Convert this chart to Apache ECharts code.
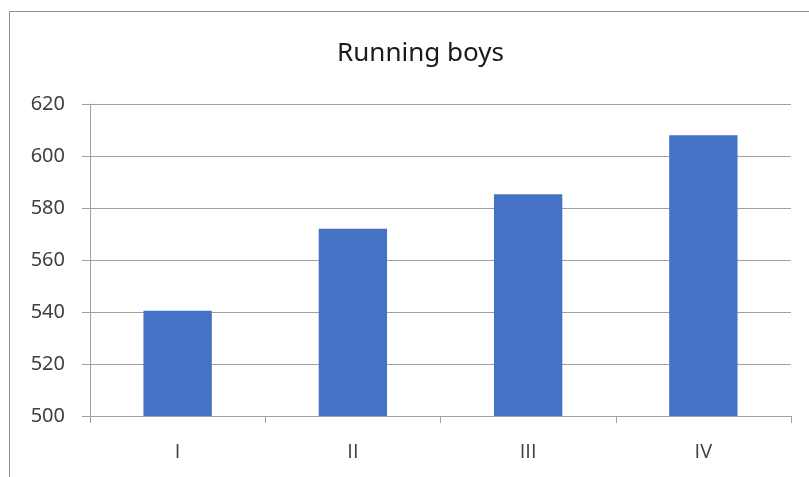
<!DOCTYPE html>
<html>
<head>
<meta charset="utf-8">
<script src="https://cdn.jsdelivr.net/npm/echarts@6/dist/echarts.min.js"></script>
<style>
html,body{margin:0;padding:0;background:#fff;}
#chart{width:809px;height:477px;}
</style>
</head>
<body>
<div id="chart"></div>
<script>
const titleText = 'Running boys';
const categories = ['I', 'II', 'III', 'IV'];
const values = [540.5, 572, 585.3, 608];
const yMin = 500, yMax = 620, yStep = 20;

const chart = echarts.init(document.getElementById('chart'), null, {renderer: 'canvas'});
const font = "'Noto Sans', 'DejaVu Sans', sans-serif";
const catFont = "'Open Sans', 'Liberation Sans', sans-serif";
chart.setOption({
  animation: false,
  backgroundColor: '#ffffff',
  textStyle: {fontFamily: font},
  title: {
    text: titleText,
    left: 415.5,
    textAlign: 'center',
    top: 36,
    textStyle: {fontFamily: font, fontSize: 26, fontWeight: 'normal', color: '#1a1a1a'}
  },
  graphic: [{
    type: 'rect',
    shape: {x: 9.5, y: 11.5, width: 900, height: 600},
    style: {fill: 'none', stroke: '#8c8c8c', lineWidth: 1},
    silent: true
  }],
  grid: {left: 90, right: 18, top: 104, bottom: 61},
  xAxis: {
    type: 'category',
    data: categories,
    axisLine: {show: true, lineStyle: {color: '#a0a0a0', width: 1}},
    axisTick: {show: true, length: 7, alignWithLabel: false, lineStyle: {color: '#a0a0a0'}},
    axisLabel: {margin: 26, fontFamily: catFont, fontSize: 20, color: '#404040'}
  },
  yAxis: {
    type: 'value',
    min: yMin, max: yMax, interval: yStep,
    axisLine: {show: true, lineStyle: {color: '#a0a0a0', width: 1}},
    axisTick: {show: true, length: 8, lineStyle: {color: '#a0a0a0'}},
    splitLine: {show: true, lineStyle: {color: '#a0a0a0', width: 1}},
    axisLabel: {margin: 25, fontFamily: font, fontSize: 20, color: '#404040'}
  },
  series: [{
    type: 'bar',
    data: values,
    barWidth: '39%',
    itemStyle: {color: '#4472C4'}
  }]
});
</script>
</body>
</html>
